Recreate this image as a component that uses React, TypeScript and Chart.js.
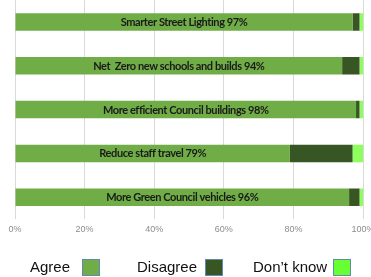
import React, { useEffect, useRef } from "react";
import { Chart, registerables } from "chart.js";

Chart.register(...registerables);

const categories = [
  "Smarter Street Lighting",
  "Net  Zero new schools and builds",
  "More efficient Council buildings",
  "Reduce staff travel",
  "More Green Council vehicles",
];
const agree = [97, 94, 98, 79, 96];
const disagree = [2, 5, 1, 18, 3];
const dontKnow = [1, 1, 1, 3, 1];
const seriesNames = ["Agree", "Disagree", "Don\u2019t know"];
const barColors = ["#70AD47", "#375623", "#8CFF5C"];
const legendColors = ["#70AD47", "#375623", "#66FF33"];
const xTickValues = [0, 20, 40, 60, 80, 100];

const legendTextX = [30, 137, 253];
const legendBoxX = [82, 205, 333];

const barLabelPlugin = {
  id: "barLabels",
  afterDatasetsDraw(chart: any) {
    const meta = chart.getDatasetMeta(0);
    const ctx = chart.ctx;
    ctx.save();
    ctx.font = "bold 11px Lato, 'Liberation Sans', sans-serif";
    try {
      (ctx as any).letterSpacing = "-0.4px";
    } catch (e) {}
    ctx.fillStyle = "#1a1a1a";
    ctx.textAlign = "center";
    ctx.textBaseline = "middle";
    meta.data.forEach((bar: any, i: number) => {
      const cx = (bar.base + bar.x) / 2;
      ctx.fillText(categories[i] + " " + agree[i] + "%", cx, bar.y + 0.5);
    });
    ctx.restore();
  },
};

const legendPlugin = {
  id: "customLegend",
  afterDraw(chart: any) {
    const ctx = chart.ctx;
    ctx.save();
    ctx.font = "15px 'Liberation Sans', Arial, sans-serif";
    ctx.textBaseline = "middle";
    ctx.textAlign = "left";
    const boxW = 18;
    const boxH = 17;
    const cy = 267.5;
    seriesNames.forEach((n, i) => {
      ctx.fillStyle = "#111";
      ctx.fillText(n, legendTextX[i], cy);
      const bx = legendBoxX[i];
      ctx.fillStyle = legendColors[i];
      ctx.fillRect(bx, cy - boxH / 2, boxW, boxH);
      ctx.strokeStyle = "#5F8AB3";
      ctx.lineWidth = 1;
      ctx.strokeRect(bx + 0.5, cy - boxH / 2 + 0.5, boxW - 1, boxH - 1);
    });
    ctx.restore();
  },
};

export default function App() {
  const ref = useRef<HTMLCanvasElement>(null);
  useEffect(() => {
    if (!ref.current) return;
    const chart = new Chart(ref.current, {
      type: "bar",
      data: {
        labels: categories,
        datasets: [
          { label: seriesNames[0], data: agree, backgroundColor: barColors[0] },
          { label: seriesNames[1], data: disagree, backgroundColor: barColors[1] },
          { label: seriesNames[2], data: dontKnow, backgroundColor: barColors[2] },
        ],
      },
      options: {
        indexAxis: "y",
        responsive: false,
        animation: false,
        maintainAspectRatio: false,
        datasets: { bar: { barPercentage: 0.4, categoryPercentage: 1 } },
        layout: { padding: { left: 15, right: 17, top: -1, bottom: 37 } },
        plugins: { legend: { display: false }, tooltip: { enabled: false } },
        scales: {
          x: {
            stacked: true,
            min: 0,
            max: 100,
            afterBuildTicks: (axis: any) => {
              axis.ticks = xTickValues.map((v) => ({ value: v }));
            },
            ticks: {
              callback: (v: any) => v + "%",
              color: "#8c8c8c",
              font: { size: 9, family: "'Liberation Sans', Arial, sans-serif" },
              padding: 5,
              maxRotation: 0,
            },
            grid: { color: "#d9d9d9", drawTicks: false },
            border: { display: false },
          },
          y: {
            stacked: true,
            display: false,
          },
        },
      } as any,
      plugins: [barLabelPlugin, legendPlugin],
    });
    return () => chart.destroy();
  }, []);
  return (
    <div style={{ position: "fixed", left: 0, top: 0, width: 371, height: 277, overflow: "hidden", background: "#fff" }}>
      <canvas ref={ref} width={380} height={277} style={{ display: "block" }} />
    </div>
  );
}
